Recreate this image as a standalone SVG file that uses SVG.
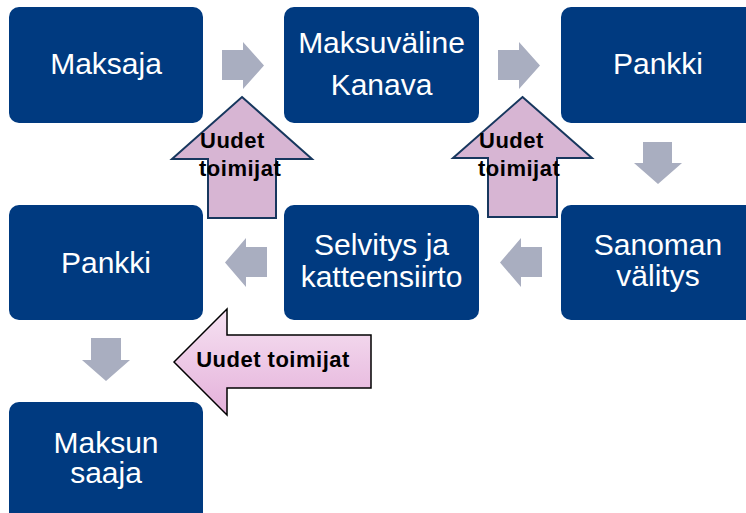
<svg xmlns="http://www.w3.org/2000/svg" width="746" height="513" viewBox="0 0 746 513">
<style>
.box{fill:#003A80;}
.lbl{font-family:"Liberation Sans",Arial,sans-serif;font-size:30px;fill:#fff;text-anchor:middle;}
.flow{fill:#A9AEC0;}
.up{fill:#D7B5D3;stroke:#17375E;stroke-width:2;stroke-linejoin:miter;}
.left{fill:url(#pg);stroke:#000;stroke-width:1.5;}
.new{font-family:"Liberation Sans",Arial,sans-serif;font-size:22px;font-weight:bold;fill:#000;letter-spacing:0.5px;}
</style>
<defs>
<linearGradient id="pg" x1="0" y1="0" x2="0" y2="1">
<stop offset="0" stop-color="#F6E2F2"/>
<stop offset="1" stop-color="#E4B0DA"/>
</linearGradient>
</defs>
<rect width="746" height="513" fill="#fff"/>
<g id="connectors">
<polygon class="flow" points="222,50 243,50 243,42 264,65.5 243,89 243,80 222,80"/>
<polygon class="flow" points="498,50 519,50 519,42 540,65.5 519,89 519,80 498,80"/>
<polygon class="flow" points="643,142 672,142 672,163 682,163 658,184 634,163 643,163"/>
<polygon class="flow" points="542,247 521,247 521,238 500,262.5 521,287 521,277 542,277"/>
<polygon class="flow" points="267,247 246,247 246,238 225,262.5 246,287 246,277 267,277"/>
<polygon class="flow" points="91,338 121,338 121,360 130,360 106,381 82,360 91,360"/>
</g>
<g id="maksaja"><rect class="box" x="9" y="7" width="194" height="116" rx="10"/><text class="lbl" x="106" y="74">Maksaja</text></g>
<g id="maksuvaline"><rect class="box" x="284" y="7" width="195" height="116" rx="10"/><text class="lbl" x="381.5" y="53">Maksuväline</text><text class="lbl" x="381.5" y="95">Kanava</text></g>
<g id="pankki1"><rect class="box" x="561" y="7" width="194" height="116" rx="10"/><text class="lbl" x="658" y="74">Pankki</text></g>
<g id="pankki2"><rect class="box" x="9" y="205" width="194" height="115" rx="10"/><text class="lbl" x="106" y="273">Pankki</text></g>
<g id="selvitys"><rect class="box" x="284" y="205" width="195" height="115" rx="10"/><text class="lbl" x="381.5" y="255">Selvitys ja</text><text class="lbl" x="381.5" y="287">katteensiirto</text></g>
<g id="sanoman"><rect class="box" x="561" y="205" width="194" height="115" rx="10"/><text class="lbl" x="658" y="255">Sanoman</text><text class="lbl" x="658" y="286">välitys</text></g>
<g id="maksunsaaja"><rect class="box" x="9" y="402" width="194" height="120" rx="10"/><text class="lbl" x="106" y="453">Maksun</text><text class="lbl" x="106" y="483">saaja</text></g>
<g id="uudet1"><polygon class="up" points="242,97 312,159 276,159 276,218 208,218 208,159 172,159"/><text class="new" x="200" y="148">Uudet</text><text class="new" x="199" y="176">toimijat</text></g>
<g id="uudet2"><polygon class="up" points="522.5,97 592,158 557,158 557,217 488,217 488,158 453,158"/><text class="new" x="479" y="148">Uudet</text><text class="new" x="478" y="176">toimijat</text></g>
<g id="uudet3"><polygon class="left" points="174,362 227,309 227,335 371,335 371,388 227,388 227,415"/><text class="new" x="273" y="367" text-anchor="middle">Uudet toimijat</text></g>
</svg>
